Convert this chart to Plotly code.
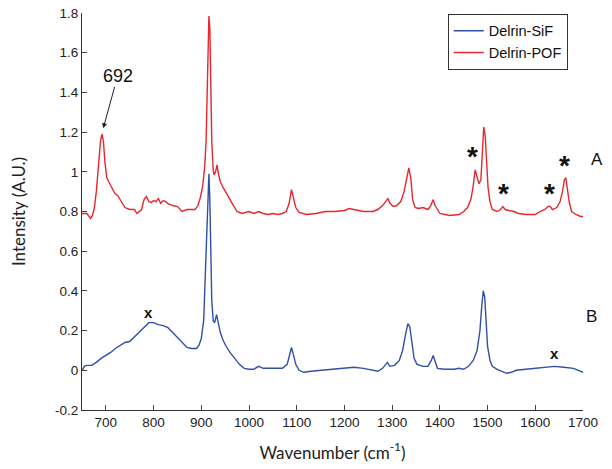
import plotly.graph_objects as go

# Delrin-POF (red, curve A)
pof_wn = [650, 660, 665, 668, 672, 676, 680, 685, 689, 692, 695, 698, 702, 706, 712, 719, 725, 730,
          740, 750, 760, 765, 770, 775, 780, 785, 790, 795, 800, 805, 810, 815, 820, 825, 830, 840,
          850, 855, 860, 870, 880, 887, 893, 898, 903, 907, 910, 912, 914, 916, 918, 920, 922, 925,
          927, 930, 933, 936, 940, 946, 955, 965, 975, 985, 1000, 1010, 1020, 1030, 1040, 1050,
          1060, 1070, 1078, 1084, 1089, 1093, 1098, 1105, 1120, 1140, 1160, 1180, 1200, 1210, 1220,
          1240, 1260, 1270, 1280, 1287, 1291, 1296, 1302, 1310, 1318, 1325, 1330, 1335, 1339, 1343,
          1348, 1355, 1365, 1375, 1381, 1386, 1390, 1395, 1400, 1420, 1440, 1450, 1458, 1465, 1470,
          1474, 1478, 1482, 1486, 1489, 1492, 1495, 1498, 1501, 1505, 1510, 1520, 1527, 1532, 1537,
          1545, 1555, 1565, 1580, 1600, 1610, 1620, 1627, 1631, 1636, 1645, 1652, 1657, 1661, 1664,
          1667, 1671, 1676, 1685, 1695, 1700]
pof_int = [0.79, 0.79, 0.775, 0.765, 0.78, 0.82, 0.90, 1.04, 1.16, 1.19, 1.15, 1.05, 0.97, 0.95, 0.92,
           0.89, 0.88, 0.86, 0.82, 0.81, 0.81, 0.79, 0.80, 0.81, 0.86, 0.875, 0.85, 0.845, 0.855,
           0.85, 0.865, 0.84, 0.855, 0.85, 0.84, 0.83, 0.825, 0.81, 0.80, 0.81, 0.81, 0.81, 0.83,
           0.87, 0.93, 1.02, 1.15, 1.35, 1.60, 1.785, 1.72, 1.45, 1.15, 1.01, 0.985, 1.00, 1.035,
           0.99, 0.95, 0.92, 0.88, 0.84, 0.80, 0.79, 0.80, 0.79, 0.80, 0.79, 0.785, 0.79, 0.785,
           0.79, 0.80, 0.84, 0.91, 0.87, 0.82, 0.795, 0.785, 0.79, 0.80, 0.80, 0.805, 0.815, 0.81,
           0.80, 0.80, 0.81, 0.83, 0.85, 0.865, 0.84, 0.825, 0.83, 0.85, 0.90, 0.97, 1.02, 0.97,
           0.86, 0.82, 0.815, 0.82, 0.81, 0.83, 0.86, 0.83, 0.81, 0.79, 0.78, 0.785, 0.80, 0.82,
           0.86, 0.93, 1.01, 0.97, 0.94, 0.96, 1.10, 1.225, 1.18, 1.03, 0.92, 0.85, 0.81, 0.80,
           0.81, 0.825, 0.81, 0.805, 0.80, 0.79, 0.785, 0.785, 0.80, 0.81, 0.825, 0.825, 0.81,
           0.82, 0.85, 0.90, 0.96, 0.97, 0.92, 0.85, 0.80, 0.785, 0.775, 0.775]

# Delrin-SiF (blue, curve B)
sif_wn = [650, 655, 660, 670, 680, 690, 700, 710, 720, 730, 740, 750, 760, 770, 780, 790, 800, 810,
          820, 830, 840, 850, 860, 870, 880, 890, 895, 900, 905, 908, 911, 914, 916, 918, 920, 922,
          925, 928, 932, 935, 940, 945, 950, 960, 970, 980, 990, 1000, 1010, 1020, 1030, 1050, 1070,
          1080, 1085, 1089, 1093, 1098, 1105, 1115, 1130, 1150, 1180, 1200, 1220, 1240, 1260, 1270,
          1280, 1290, 1295, 1305, 1315, 1322, 1328, 1333, 1337, 1341, 1346, 1352, 1365, 1375, 1382,
          1386, 1390, 1395, 1410, 1430, 1440, 1450, 1460, 1470, 1478, 1484, 1488, 1491, 1494, 1497,
          1500, 1505, 1510, 1520, 1530, 1540, 1550, 1560, 1580, 1600, 1620, 1640, 1660, 1680, 1690,
          1700]
sif_int = [0.00, 0.02, 0.025, 0.025, 0.04, 0.06, 0.075, 0.09, 0.11, 0.125, 0.14, 0.145, 0.17, 0.19,
           0.22, 0.24, 0.24, 0.23, 0.225, 0.215, 0.19, 0.165, 0.135, 0.115, 0.11, 0.11, 0.125, 0.16,
           0.25, 0.45, 0.75, 0.95, 0.99, 0.85, 0.55, 0.35, 0.25, 0.24, 0.28, 0.24, 0.19, 0.155, 0.13,
           0.09, 0.06, 0.03, 0.01, 0.005, 0.005, 0.02, 0.01, 0.01, 0.01, 0.03, 0.08, 0.115, 0.08,
           0.03, 0.0, -0.01, -0.005, 0.0, 0.005, 0.01, 0.015, 0.01, 0.0, -0.005, 0.01, 0.04, 0.02,
           0.025, 0.05, 0.10, 0.18, 0.235, 0.22, 0.14, 0.06, 0.03, 0.02, 0.02, 0.05, 0.075, 0.04,
           0.01, 0.005, 0.005, 0.01, 0.005, 0.02, 0.05, 0.10, 0.20, 0.33, 0.40, 0.37, 0.25, 0.12,
           0.05, 0.02, 0.005, -0.005, -0.015, -0.01, 0.0, 0.005, 0.01, 0.015, 0.02, 0.015, 0.01, 0.0,
           -0.01]

x_ticks = [700, 800, 900, 1000, 1100, 1200, 1300, 1400, 1500, 1600, 1700]
y_ticks = [-0.2, 0, 0.2, 0.4, 0.6, 0.8, 1, 1.2, 1.4, 1.6, 1.8]
y_tick_text = ["-0.2", "0", "0.2", "0.4", "0.6", "0.8", "1", "1.2", "1.4", "1.6", "1.8"]

fig = go.Figure()
fig.add_trace(go.Scatter(x=sif_wn, y=sif_int, mode="lines", name="Delrin-SiF",
                         line=dict(color="#2f4fa8", width=1.4)))
fig.add_trace(go.Scatter(x=pof_wn, y=pof_int, mode="lines", name="Delrin-POF",
                         line=dict(color="#e8262d", width=1.4)))

tick_font = dict(family="Liberation Sans, Arial", size=13.5, color="#222")
fig.update_xaxes(range=[650, 1700], tickvals=x_ticks, ticks="inside", ticklen=5,
                 showline=True, linecolor="#333", linewidth=1, showgrid=False, zeroline=False,
                 tickfont=tick_font, automargin=False,
                 title=dict(text="Wavenumber (cm<sup>-1</sup>)", font=dict(family="Lato", size=17, color="#222"),
                            standoff=17))
fig.update_yaxes(range=[-0.2, 1.8], tickvals=y_ticks, ticktext=y_tick_text, ticks="inside", ticklen=5,
                 showline=True, linecolor="#333", linewidth=1, showgrid=False, zeroline=False,
                 tickfont=tick_font, automargin=False,
                 title=dict(text="Intensity (A.U.)", font=dict(family="Lato", size=17, color="#222"),
                            standoff=25))

anns = []
# 692 label with arrow to the peak
anns.append(dict(x=694, y=1.215, ax=725, ay=1.485, xref="x", yref="y", axref="x", ayref="y",
                 showarrow=True, arrowhead=2, arrowsize=1, arrowwidth=1, arrowcolor="#222",
                 standoff=1, text="692",
                 font=dict(family="Liberation Sans, Arial", size=18, color="#111")))
# asterisks
for ax_, ay_ in [(1469, 1.075), (1533, 0.89), (1630, 0.89), (1661, 1.03)]:
    anns.append(dict(x=ax_, y=ay_, xref="x", yref="y", text="<b>*</b>", showarrow=False,
                     font=dict(family="Liberation Sans, Arial", size=28, color="#111")))
# x marks
for ax_, ay_ in [(790, 0.29), (1641, 0.085)]:
    anns.append(dict(x=ax_, y=ay_, xref="x", yref="y", text="<b>x</b>", showarrow=False,
                     font=dict(family="Liberation Sans, Arial", size=15, color="#111")))
# curve labels
anns.append(dict(x=1.044, y=0.63, xref="paper", yref="paper", text="A", showarrow=False,
                 font=dict(family="Liberation Sans, Arial", size=17, color="#111")))
anns.append(dict(x=1.032, y=0.207, xref="paper", yref="paper", text="B", showarrow=False,
                 font=dict(family="Liberation Sans, Arial", size=17, color="#111")))

fig.update_layout(
    width=612, height=469,
    margin=dict(l=82, r=29, t=13, b=59),
    plot_bgcolor="white", paper_bgcolor="white",
    showlegend=True,
    legend=dict(x=0.73, y=0.998, xanchor="left", yanchor="top", bordercolor="#333", borderwidth=1,
                bgcolor="white", font=dict(family="Liberation Sans, Arial", size=14.5, color="#111"),
                tracegroupgap=0, itemwidth=30),
    annotations=anns,
)

fig.write_html("out.html", config={"displayModeBar": False},
               post_script="document.body.style.margin='0';")
